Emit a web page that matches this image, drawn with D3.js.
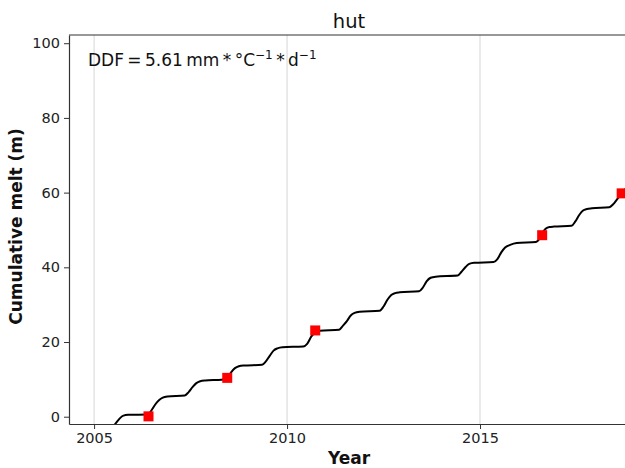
<!DOCTYPE html>
<html>
<head>
<meta charset="utf-8">
<script src="https://cdn.jsdelivr.net/npm/d3@7"></script>
<style>
  body { margin: 0; background: #fff; }
  svg { font-family: "DejaVu Sans", sans-serif; }
</style>
</head>
<body>
<div id="chart"></div>
<script>
// cumulative melt curve
const meltDates = [
  2005.50, 2005.58, 2005.66, 2005.76, 2005.88,
  2006.40, 2006.48, 2006.58, 2006.68, 2006.78, 2006.90,
  2007.35, 2007.45, 2007.55, 2007.65, 2007.75, 2007.88,
  2008.30, 2008.45, 2008.55, 2008.65, 2008.75, 2008.88,
  2009.35, 2009.45, 2009.55, 2009.65, 2009.75, 2009.88,
  2010.42, 2010.52, 2010.63, 2010.73, 2010.85,
  2011.35, 2011.45, 2011.55, 2011.65, 2011.75, 2011.88,
  2012.40, 2012.50, 2012.60, 2012.70, 2012.80, 2012.92,
  2013.42, 2013.52, 2013.62, 2013.72, 2013.85,
  2014.42, 2014.52, 2014.62, 2014.72, 2014.85,
  2015.35, 2015.45, 2015.55, 2015.65, 2015.78, 2015.95,
  2016.45, 2016.55, 2016.62, 2016.70, 2016.80, 2016.92,
  2017.37, 2017.47, 2017.57, 2017.67, 2017.77, 2017.90,
  2018.35, 2018.45, 2018.55, 2018.65, 2018.75, 2018.85
];
const meltValues = [
  -2.6, -1.5, -0.5, 0.3, 0.5,
  0.6, 1.6, 3.2, 4.4, 5.1, 5.4,
  5.7, 6.6, 7.9, 9.0, 9.5, 9.7,
  9.9, 10.4, 11.9, 13.0, 13.5, 13.7,
  13.9, 14.8, 16.3, 17.7, 18.3, 18.6,
  18.8, 19.5, 21.5, 22.6, 23.0,
  23.3, 24.4, 25.6, 27.1, 27.8, 28.1,
  28.4, 29.5, 31.3, 32.6, 33.1, 33.3,
  33.6, 34.6, 36.3, 37.2, 37.5,
  37.8, 38.8, 40.0, 40.9, 41.2,
  41.4, 42.2, 44.0, 45.3, 46.0, 46.5,
  46.8, 47.8, 49.2, 50.3, 50.8, 50.9,
  51.1, 52.3, 54.0, 55.2, 55.6, 55.8,
  56.1, 56.9, 58.2, 59.5, 60.8, 61.6
];

// observed points (red squares)
const obsDates = [2006.41, 2008.45, 2010.73, 2016.61, 2018.67];
const obsValues = [0.1, 10.4, 23.1, 48.6, 59.8];

const xTicks = [2005, 2010, 2015];
const yTicks = [0, 20, 40, 60, 80, 100];

const width = 625;
const height = 468;
const margin = { top: 35, right: -4, bottom: 44, left: 69 };

const svg = d3.select('#chart')
  .append('svg')
  .attr('width', width)
  .attr('height', height);

const x = d3.scaleLinear()
  .domain([2004.35, 2018.86])
  .range([margin.left, width - margin.right]);

const y = d3.scaleLinear()
  .domain([-1.95, 102.2])
  .range([height - margin.bottom, margin.top]);

svg.append('defs').append('clipPath')
  .attr('id', 'plot')
  .append('rect')
  .attr('x', margin.left)
  .attr('y', margin.top)
  .attr('width', width - margin.right - margin.left)
  .attr('height', height - margin.bottom - margin.top);

// vertical grid
svg.append('g')
  .selectAll('line')
  .data(xTicks)
  .enter().append('line')
  .attr('x1', d => x(d))
  .attr('x2', d => x(d))
  .attr('y1', margin.top)
  .attr('y2', height - margin.bottom)
  .attr('stroke', '#d6d6d6')
  .attr('stroke-width', 1);

// melt curve
const data = meltDates.map((d, i) => ({ date: d, value: meltValues[i] }));
const line = d3.line()
  .x(d => x(d.date))
  .y(d => y(d.value))
  .curve(d3.curveMonotoneX);

svg.append('path')
  .datum(data)
  .attr('clip-path', 'url(#plot)')
  .attr('d', line)
  .attr('fill', 'none')
  .attr('stroke', '#000')
  .attr('stroke-width', 2)
  .attr('stroke-linejoin', 'round');

// observations
const sq = 10;
svg.append('g')
  .attr('clip-path', 'url(#plot)')
  .selectAll('rect')
  .data(obsDates.map((d, i) => ({ date: d, value: obsValues[i] })))
  .enter().append('rect')
  .attr('x', d => x(d.date) - sq / 2)
  .attr('y', d => y(d.value) - sq / 2)
  .attr('width', sq)
  .attr('height', sq)
  .attr('fill', '#ff0000');

// axes
const xAxis = svg.append('g')
  .attr('transform', `translate(0,${height - margin.bottom})`)
  .call(d3.axisBottom(x).tickValues(xTicks).tickFormat(d3.format('d')).tickSizeInner(5).tickSizeOuter(0).tickPadding(4));

const yAxis = svg.append('g')
  .attr('transform', `translate(${margin.left},0)`)
  .call(d3.axisLeft(y).tickValues(yTicks).tickSizeInner(5).tickSizeOuter(0).tickPadding(4));

[xAxis, yAxis].forEach(g => {
  g.select('.domain').attr('stroke', '#333').attr('stroke-width', 1.2);
  g.selectAll('.tick line').attr('stroke', '#333');
  g.selectAll('.tick text')
    .attr('fill', '#222')
    .style('font-family', '"DejaVu Sans", sans-serif')
    .style('font-size', '14.5px');
});

// top spine
svg.append('line')
  .attr('x1', margin.left)
  .attr('x2', width)
  .attr('y1', margin.top)
  .attr('y2', margin.top)
  .attr('stroke', '#333')
  .attr('stroke-width', 1.2);

// title
svg.append('text')
  .attr('x', (margin.left + width - margin.right) / 2)
  .attr('y', 28)
  .attr('text-anchor', 'middle')
  .style('font-size', '19.5px')
  .attr('fill', '#111')
  .text('hut');

// axis labels
svg.append('text')
  .attr('x', (margin.left + width - margin.right) / 2)
  .attr('y', 464)
  .attr('text-anchor', 'middle')
  .style('font-size', '17px')
  .style('font-weight', 'bold')
  .attr('fill', '#111')
  .text('Year');

svg.append('text')
  .attr('transform', `translate(22,${(margin.top + height - margin.bottom) / 2 - 3}) rotate(-90)`)
  .attr('text-anchor', 'middle')
  .style('font-size', '17px')
  .style('font-weight', 'bold')
  .attr('fill', '#111')
  .text('Cumulative melt (m)');

// DDF annotation
const ann = svg.append('text')
  .attr('x', 88)
  .attr('y', 66)
  .style('font-size', '17px')
  .attr('fill', '#111');
ann.append('tspan').text('DDF\u2009=\u20095.61\u2009mm\u2009*\u2009°C');
ann.append('tspan').attr('dy', -7).style('font-size', '12px').text('\u22121');
ann.append('tspan').attr('dy', 7).text('\u2009*\u2009d');
ann.append('tspan').attr('dy', -7).style('font-size', '12px').text('\u22121');
</script>
</body>
</html>
